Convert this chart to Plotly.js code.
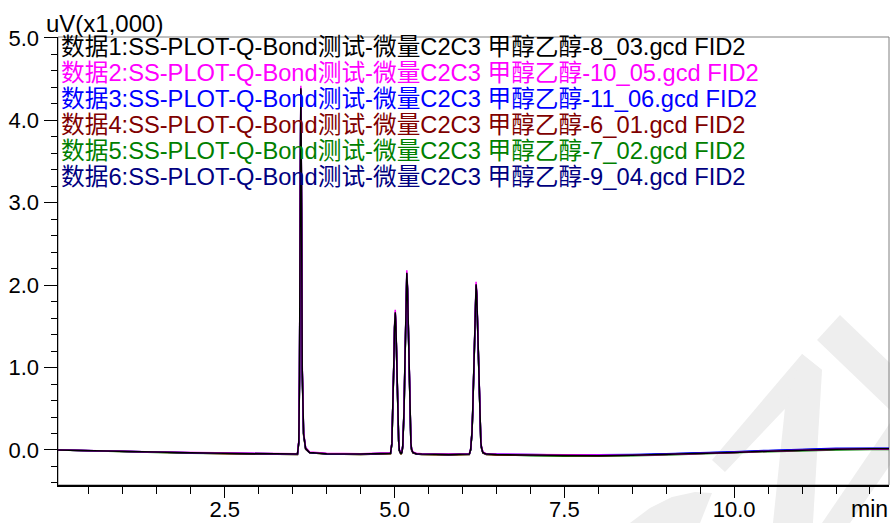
<!DOCTYPE html>
<html>
<head>
<meta charset="utf-8">
<script src="https://cdn.plot.ly/plotly-3.0.1.min.js"></script>
<style>html,body{margin:0;padding:0;background:#fff;}#chart{width:890px;height:523px;}</style>
</head>
<body>
<div id="chart"></div>
<script>
// Retention time (min)
const time = [0.04,0.5,1.0,1.5,2.0,2.5,3.0,3.5,
  3.57,3.59,3.60,3.61,3.62,3.63,3.64,3.66,3.69,3.75,
  4.0,4.5,
  4.94,4.96,4.98,4.99,5.00,5.01,5.02,5.03,5.04,5.05,5.06,5.07,5.08,5.09,
  5.10,5.11,5.12,5.13,5.14,5.15,5.16,5.17,5.18,5.19,5.20,5.21,5.22,5.23,5.24,5.25,
  5.27,5.32,5.4,5.8,
  6.1,6.12,
  6.13,6.14,6.15,6.16,6.17,6.18,6.19,6.20,6.21,6.22,6.23,6.24,6.25,6.26,6.27,6.28,
  6.30,6.35,6.5,
  7.0,7.5,8.0,8.5,9.0,9.5,10.0,10.5,11.0,11.5,12.0,12.3];

// Signal, uV (x1,000)
const run1 = [0.0,-0.01,-0.02,-0.03,-0.035,-0.04,-0.045,-0.05,
  -0.05,0.1,0.9,2.9,4.39,3.0,1.0,0.2,0.02,-0.03,
  -0.045,-0.05,
  -0.04,0.08,0.62,1.09,1.50,1.67,1.50,1.09,0.66,0.31,0.11,0.0,-0.03,-0.04,
  -0.04,-0.02,0.05,0.20,0.50,0.96,1.51,1.97,2.15,1.97,1.51,0.98,0.53,0.24,0.09,0.01,
  -0.03,-0.045,-0.05,-0.055,
  -0.05,0.005,
  0.08,0.22,0.46,0.79,1.195,1.59,1.89,2.01,1.89,1.59,1.20,0.80,0.48,0.24,0.10,0.03,
  -0.03,-0.05,-0.055,
  -0.06,-0.065,-0.07,-0.065,-0.055,-0.045,-0.03,-0.015,0.0,0.01,0.015,0.015];
const run2 = [0.0,-0.005,-0.015,-0.025,-0.03,-0.035,-0.04,-0.045,
  -0.045,0.12,0.95,3.0,4.42,3.05,1.05,0.22,0.03,-0.025,
  -0.04,-0.045,
  -0.035,0.09,0.64,1.11,1.53,1.70,1.53,1.11,0.68,0.32,0.12,0.01,-0.025,-0.035,
  -0.035,-0.015,0.06,0.21,0.52,0.98,1.54,2.00,2.18,2.00,1.54,1.00,0.55,0.25,0.10,0.02,
  -0.025,-0.04,-0.045,-0.05,
  -0.045,0.01,
  0.09,0.23,0.47,0.81,1.22,1.62,1.92,2.04,1.92,1.62,1.22,0.82,0.49,0.25,0.11,0.04,
  -0.025,-0.045,-0.05,
  -0.055,-0.06,-0.065,-0.065,-0.055,-0.045,-0.03,-0.015,0.0,0.01,0.012,0.012];
const run3 = [0.0,-0.01,-0.02,-0.03,-0.035,-0.04,-0.045,-0.048,
  -0.048,0.1,0.88,2.85,4.36,2.95,0.98,0.2,0.02,-0.03,
  -0.045,-0.05,
  -0.04,0.08,0.61,1.08,1.48,1.65,1.48,1.08,0.65,0.30,0.11,0.0,-0.03,-0.04,
  -0.04,-0.02,0.05,0.20,0.49,0.95,1.50,1.95,2.13,1.95,1.50,0.97,0.52,0.23,0.09,0.01,
  -0.03,-0.045,-0.05,-0.055,
  -0.05,0.005,
  0.08,0.22,0.45,0.78,1.18,1.57,1.87,1.99,1.87,1.57,1.18,0.79,0.47,0.24,0.10,0.03,
  -0.03,-0.05,-0.05,
  -0.055,-0.06,-0.06,-0.055,-0.045,-0.035,-0.02,-0.005,0.01,0.02,0.022,0.02];
const run4 = [0.0,-0.01,-0.02,-0.03,-0.04,-0.045,-0.05,-0.055,
  -0.055,0.09,0.85,2.8,4.33,2.9,0.95,0.18,0.01,-0.035,
  -0.05,-0.055,
  -0.045,0.07,0.60,1.06,1.47,1.64,1.47,1.06,0.63,0.29,0.10,-0.01,-0.035,-0.045,
  -0.045,-0.025,0.04,0.19,0.48,0.94,1.48,1.94,2.12,1.94,1.48,0.96,0.51,0.22,0.08,0.0,
  -0.035,-0.05,-0.055,-0.06,
  -0.055,0.0,
  0.07,0.21,0.44,0.77,1.17,1.56,1.86,1.98,1.86,1.56,1.17,0.78,0.46,0.23,0.09,0.02,
  -0.035,-0.055,-0.06,
  -0.065,-0.07,-0.07,-0.065,-0.055,-0.045,-0.03,-0.015,0.0,0.008,0.01,0.01];
const run5 = [0.0,-0.012,-0.022,-0.032,-0.04,-0.045,-0.05,-0.055,
  -0.055,0.1,0.87,2.82,4.35,2.92,0.96,0.19,0.01,-0.035,
  -0.05,-0.055,
  -0.045,0.07,0.60,1.07,1.48,1.65,1.48,1.07,0.64,0.29,0.10,-0.01,-0.035,-0.045,
  -0.045,-0.025,0.04,0.19,0.49,0.95,1.49,1.95,2.13,1.95,1.49,0.96,0.51,0.22,0.08,0.0,
  -0.035,-0.05,-0.055,-0.06,
  -0.055,0.0,
  0.07,0.21,0.45,0.78,1.18,1.57,1.87,1.99,1.87,1.57,1.18,0.79,0.47,0.23,0.09,0.02,
  -0.035,-0.055,-0.06,
  -0.07,-0.075,-0.075,-0.07,-0.06,-0.05,-0.035,-0.02,-0.008,0.0,0.005,0.005];
const run6 = [0.0,-0.01,-0.02,-0.03,-0.035,-0.04,-0.045,-0.05,
  -0.05,0.1,0.9,2.88,4.37,2.98,0.99,0.2,0.02,-0.03,
  -0.045,-0.05,
  -0.04,0.08,0.62,1.09,1.49,1.66,1.49,1.09,0.65,0.30,0.11,0.0,-0.03,-0.04,
  -0.04,-0.02,0.05,0.20,0.50,0.96,1.50,1.96,2.14,1.96,1.50,0.97,0.52,0.23,0.09,0.01,
  -0.03,-0.045,-0.05,-0.055,
  -0.05,0.005,
  0.08,0.22,0.46,0.79,1.19,1.58,1.88,2.00,1.88,1.58,1.19,0.80,0.48,0.24,0.10,0.03,
  -0.03,-0.05,-0.055,
  -0.06,-0.065,-0.068,-0.062,-0.052,-0.04,-0.025,-0.01,0.005,0.015,0.018,0.018];

const seriesNames = [
  "数据1:SS-PLOT-Q-Bond测试-微量C2C3 甲醇乙醇-8_03.gcd FID2",
  "数据2:SS-PLOT-Q-Bond测试-微量C2C3 甲醇乙醇-10_05.gcd FID2",
  "数据3:SS-PLOT-Q-Bond测试-微量C2C3 甲醇乙醇-11_06.gcd FID2",
  "数据4:SS-PLOT-Q-Bond测试-微量C2C3 甲醇乙醇-6_01.gcd FID2",
  "数据5:SS-PLOT-Q-Bond测试-微量C2C3 甲醇乙醇-7_02.gcd FID2",
  "数据6:SS-PLOT-Q-Bond测试-微量C2C3 甲醇乙醇-9_04.gcd FID2"
];
const seriesColors = ["#000000","#ff00ff","#0000ff","#800000","#008000","#000080"];
const seriesValues = [run1, run2, run3, run4, run5, run6];

const FONT = "'Liberation Sans', Arial, 'Noto Sans CJK SC', sans-serif";

// pixel -> paper helpers for decoration
const L = 58, R = 889, T = 37, B = 485;
const px = x => (x - L) / (R - L);
const py = y => (B - y) / (B - T);
function poly(pts){
  return 'M ' + pts.map(p => px(p[0]).toFixed(4) + ',' + py(p[1]).toFixed(4)).join(' L ') + ' Z';
}

// traces (draw series 6..1 so series 1 ends on top)
const traces = [];
for (let i = seriesValues.length - 1; i >= 0; i--) {
  traces.push({
    x: time, y: seriesValues[i], type: 'scatter', mode: 'lines',
    name: seriesNames[i], line: {color: seriesColors[i], width: 1.5},
    hoverinfo: 'skip'
  });
}

const annotations = seriesNames.map((s, i) => ({
  xref: 'paper', yref: 'paper', x: px(59), y: py(47 + i * 26),
  xanchor: 'left', yanchor: 'middle', showarrow: false,
  text: s, font: {family: FONT, size: 23.7, color: seriesColors[i]}
}));
annotations.push({
  xref: 'paper', yref: 'paper', x: px(44), y: py(24),
  xanchor: 'left', yanchor: 'middle', showarrow: false,
  text: 'uV(x1,000)', font: {family: FONT, size: 24, color: '#000'}
});
annotations.push({
  xref: 'paper', yref: 'paper', x: px(890), y: py(509),
  xanchor: 'right', yanchor: 'middle', showarrow: false,
  text: 'min', font: {family: FONT, size: 23, color: '#000'}
});

const wm = '#eeeeee';
const shapes = [
  {type:'path', xref:'paper', yref:'paper', layer:'below', fillcolor: wm, line:{width:0},
   path: poly([[712,460],[802,354],[822,370],[725,472]])},
  {type:'path', xref:'paper', yref:'paper', layer:'below', fillcolor: wm, line:{width:0},
   path: poly([[785,408],[802,354],[822,370],[813,523],[773,523]])},
  {type:'path', xref:'paper', yref:'paper', layer:'below', fillcolor: wm, line:{width:0},
   path: poly([[817,340],[840,315],[892,365],[892,412]])},
  {type:'path', xref:'paper', yref:'paper', layer:'below', fillcolor: wm, line:{width:0},
   path: poly([[892,420],[892,462],[850,523],[822,523]])},
  {type:'path', xref:'paper', yref:'paper', layer:'below', fillcolor: wm, line:{width:0},
   path: poly([[630,523],[650,508],[672,497],[695,492],[712,493],[700,523]])},
  {type:'rect', xref:'paper', yref:'paper', x0:0, x1:1, y0:0, y1:1, layer:'below',
   line:{color:'#808080', width:1}}
];

const layout = {
  width: 890, height: 523,
  margin: {l: L, r: 890 - R, t: T, b: 523 - B, pad: 0},
  paper_bgcolor: '#ffffff', plot_bgcolor: 'rgba(0,0,0,0)',
  showlegend: false,
  font: {family: FONT, size: 22, color: '#000'},
  xaxis: {
    range: [0.044, 12.28], showgrid: false, zeroline: false,
    showline: true, linecolor: '#000', linewidth: 1.5,
    ticks: 'outside', ticklen: 11, tickwidth: 1, tickcolor: '#000',
    tick0: 0, dtick: 2.5, tickformat: '.1f', ticklabelstandoff: -7,
    tickfont: {family: FONT, size: 22, color: '#000'},
    minor: {ticks: 'outside', dtick: 0.5, tick0: 0, ticklen: 7, tickwidth: 1, tickcolor: '#000', showgrid: false}
  },
  yaxis: {
    range: [-0.425, 5.012], showgrid: false, zeroline: false,
    showline: true, linecolor: '#000', linewidth: 1.5,
    ticks: 'outside', ticklen: 13, tickwidth: 1, tickcolor: '#000',
    tick0: 0, dtick: 1, tickformat: '.1f',
    tickfont: {family: FONT, size: 22, color: '#000'},
    minor: {ticks: 'outside', dtick: 0.2, tick0: 0, ticklen: 6, tickwidth: 1, tickcolor: '#000', showgrid: false}
  },
  annotations: annotations,
  shapes: shapes
};

Plotly.newPlot('chart', traces, layout, {displayModeBar: false, staticPlot: true});
</script>
</body>
</html>
